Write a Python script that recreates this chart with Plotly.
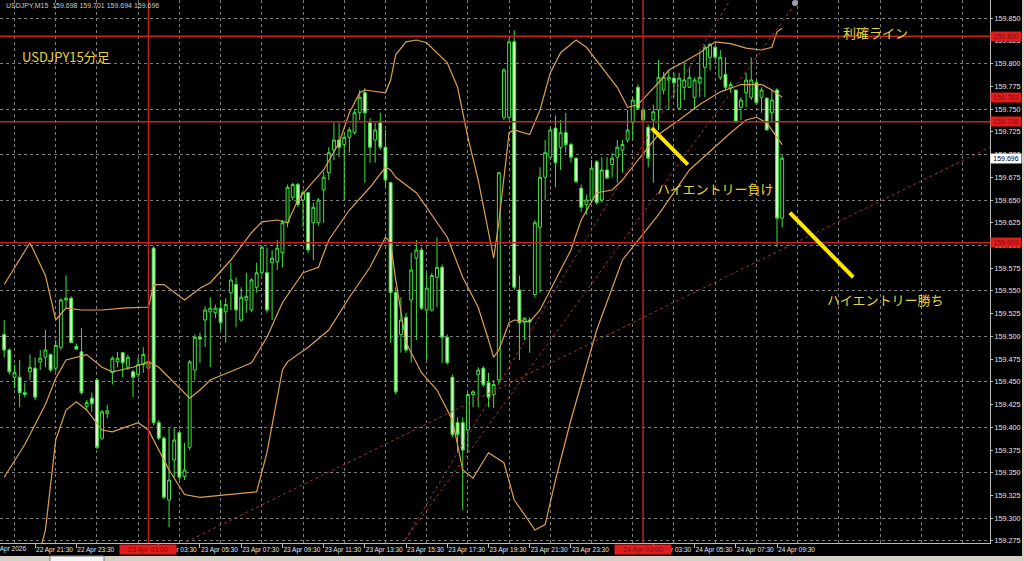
import plotly.graph_objects as go

# ---------------- data ----------------
open_ = [159.502,159.485,159.455,159.455,159.438,159.461,159.465,159.472,159.477,159.480,
         159.465,159.488,159.540,159.542,159.489,159.483,159.423,159.432,159.452,159.388,
         159.415,159.460,159.472,159.482,159.466,159.461,159.458,159.469,159.465,159.597,
         159.405,159.388,159.320,159.364,159.394,159.346,159.378,159.463,159.499,159.518,
         159.527,159.526,159.531,159.527,159.548,159.557,159.518,159.540,159.529,159.554,
         159.570,159.570,159.581,159.582,159.592,159.625,159.653,159.667,159.650,159.658,
         159.625,159.625,159.661,159.680,159.705,159.716,159.711,159.719,159.724,159.746,
         159.768,159.735,159.716,159.735,159.708,159.669,159.548,159.502,159.521,159.540,
         159.586,159.595,159.529,159.529,159.565,159.576,159.499,159.455,159.405,159.405,
         159.397,159.436,159.458,159.465,159.449,159.436,159.452,159.741,159.741,159.824,
         159.551,159.515,159.518,159.546,159.620,159.675,159.697,159.729,159.708,159.724,
         159.711,159.696,159.663,159.645,159.650,159.692,159.650,159.683,159.689,159.697,
         159.705,159.716,159.735,159.774,159.749,159.730,159.738,159.749,159.771,159.782,
         159.784,159.751,159.774,159.774,159.763,159.779,159.796,159.807,159.818,159.785,
         159.788,159.773,159.771,159.752,159.768,159.763,159.779,159.763,159.762,159.746,
         159.771,159.630]
high = [159.518,159.487,159.469,159.474,159.449,159.480,159.477,159.485,159.507,159.481,
        159.496,159.542,159.567,159.544,159.492,159.509,159.430,159.438,159.454,159.419,
        159.425,159.478,159.483,159.483,159.480,159.463,159.477,159.488,159.480,159.599,
        159.408,159.390,159.399,159.400,159.397,159.383,159.474,159.502,159.504,159.533,
        159.543,159.535,159.540,159.542,159.581,159.565,159.554,159.570,159.564,159.581,
        159.600,159.598,159.595,159.606,159.628,159.667,159.669,159.669,159.661,159.659,
        159.647,159.652,159.681,159.708,159.735,159.735,159.724,159.730,159.749,159.771,
        159.773,159.740,159.735,159.746,159.727,159.670,159.554,159.543,159.526,159.592,
        159.606,159.598,159.570,159.570,159.609,159.579,159.502,159.458,159.411,159.411,
        159.438,159.441,159.466,159.467,159.460,159.452,159.681,159.795,159.828,159.837,
        159.567,159.521,159.521,159.628,159.686,159.716,159.730,159.743,159.738,159.746,
        159.713,159.697,159.667,159.656,159.694,159.694,159.697,159.697,159.702,159.716,
        159.716,159.749,159.763,159.777,159.751,159.733,159.755,159.804,159.791,159.793,
        159.790,159.790,159.801,159.796,159.785,159.812,159.821,159.823,159.821,159.815,
        159.807,159.780,159.771,159.763,159.790,159.807,159.782,159.774,159.763,159.771,
        159.773,159.700]
low = [159.477,159.458,159.443,159.422,159.433,159.452,159.430,159.463,159.466,159.461,
       159.461,159.485,159.531,159.493,159.485,159.436,159.419,159.417,159.376,159.386,
       159.410,159.447,159.466,159.455,159.463,159.433,159.455,159.460,159.461,159.402,
       159.386,159.321,159.290,159.345,159.342,159.342,159.375,159.452,159.471,159.488,
       159.466,159.520,159.507,159.493,159.529,159.510,159.516,159.526,159.527,159.548,
       159.567,159.526,159.518,159.573,159.576,159.620,159.650,159.642,159.620,159.592,
       159.584,159.622,159.625,159.672,159.694,159.697,159.650,159.702,159.722,159.738,
       159.669,159.691,159.691,159.705,159.664,159.493,159.436,159.482,159.482,159.471,
       159.496,159.529,159.474,159.527,159.532,159.471,159.469,159.389,159.372,159.309,
       159.372,159.422,159.422,159.444,159.422,159.421,159.447,159.738,159.738,159.551,
       159.474,159.496,159.482,159.543,159.548,159.650,159.694,159.664,159.683,159.702,
       159.691,159.669,159.637,159.634,159.647,159.645,159.647,159.674,159.675,159.669,
       159.680,159.713,159.716,159.749,159.736,159.686,159.669,159.727,159.766,159.749,
       159.763,159.749,159.760,159.773,159.749,159.763,159.763,159.793,159.804,159.782,
       159.771,159.768,159.735,159.738,159.752,159.760,159.755,159.746,159.727,159.735,
       159.598,159.620]
close = [159.485,159.461,159.460,159.438,159.436,159.466,159.433,159.476,159.485,159.463,
         159.490,159.540,159.542,159.493,159.486,159.438,159.427,159.426,159.378,159.417,
         159.418,159.476,159.476,159.471,159.477,159.455,159.469,159.480,159.472,159.405,
         159.388,159.323,159.342,159.386,159.345,159.353,159.472,159.499,159.497,159.529,
         159.531,159.531,159.515,159.535,159.562,159.529,159.543,159.544,159.562,159.570,
         159.598,159.529,159.586,159.597,159.625,159.664,159.667,159.645,159.658,159.595,
         159.642,159.650,159.675,159.702,159.716,159.708,159.719,159.727,159.746,159.763,
         159.746,159.708,159.727,159.708,159.672,159.548,159.439,159.518,159.485,159.573,
         159.595,159.531,159.553,159.567,159.576,159.499,159.471,159.392,159.392,159.375,
         159.436,159.439,159.463,159.447,159.433,159.447,159.680,159.793,159.824,159.554,
         159.515,159.520,159.516,159.625,159.675,159.702,159.727,159.691,159.724,159.711,
         159.697,159.670,159.642,159.650,159.685,159.647,159.683,159.674,159.696,159.708,
         159.711,159.727,159.760,159.751,159.738,159.696,159.747,159.785,159.785,159.785,
         159.779,159.784,159.782,159.785,159.782,159.785,159.818,159.821,159.807,159.807,
         159.774,159.777,159.736,159.760,159.782,159.782,159.757,159.771,159.727,159.760,
         159.630,159.696]
bars = list(range(len(close)))

# Bollinger bands (read at selected bars)
upper_idx = [0,5,8,10,12,15,19,23,27,28,29,31,35,38,40,44,48,50,53,55,57,59,62,65,67,69,70,74,75,76,
             78,80,82,86,88,90,92,94,95,96,98,99,102,104,106,108,111,113,116,119,121,123,127,129,132,
             135,138,141,144,147,149,150,151]
upper = [159.557,159.603,159.567,159.518,159.531,159.529,159.529,159.531,159.532,159.532,
         159.557,159.557,159.540,159.553,159.559,159.584,159.614,159.626,159.628,159.625,
         159.650,159.664,159.683,159.713,159.746,159.768,159.771,159.768,159.782,159.810,
         159.824,159.826,159.823,159.801,159.774,159.719,159.672,159.614,159.586,159.625,
         159.724,159.727,159.722,159.749,159.790,159.812,159.826,159.818,159.796,159.774,
         159.752,159.755,159.779,159.793,159.802,159.812,159.824,159.822,159.817,159.815,
         159.818,159.835,159.839]
middle_idx = [0,4,8,10,12,14,16,19,21,25,28,30,33,36,38,40,46,48,51,54,58,61,63,67,71,74,75,76,80,82,
              86,89,92,94,95,96,98,99,102,104,107,110,112,115,118,120,123,127,131,135,139,143,147,149,151]
middle = [159.345,159.381,159.425,159.454,159.474,159.477,159.480,159.466,159.461,159.466,
          159.472,159.466,159.449,159.432,159.441,159.452,159.466,159.471,159.499,159.537,
          159.570,159.576,159.606,159.639,159.664,159.686,159.683,159.675,159.658,159.642,
          159.609,159.565,159.532,159.496,159.477,159.485,159.515,159.518,159.516,159.529,
          159.562,159.595,159.628,159.658,159.661,159.672,159.694,159.722,159.738,159.755,
          159.769,159.777,159.777,159.771,159.763]
lower_idx = [0,4,8,10,12,14,16,19,21,26,28,32,35,38,49,51,54,55,59,63,67,71,74,75,76,78,81,84,87,89,
             91,94,97,99,101,103,105,107,110,113,115,120,127,133,141,144,146,148,150,151]
lower = [159.133,159.199,159.287,159.386,159.419,159.428,159.419,159.397,159.395,159.405,
         159.397,159.353,159.326,159.323,159.329,159.372,159.463,159.472,159.488,159.507,
         159.543,159.576,159.609,159.603,159.562,159.493,159.460,159.441,159.408,159.353,
         159.344,159.372,159.361,159.320,159.304,159.287,159.293,159.342,159.408,159.469,
         159.507,159.584,159.634,159.683,159.724,159.738,159.741,159.735,159.719,159.711]

# axis labels (the 01:30 labels sit under the red separator tags)
time_tick_bars = [6,14,30,38,46,54,62,70,78,86,94,102,110,126,134,142,150]
time_tick_labels = ["22 Apr 21:30","22 Apr 23:30","23 Apr 03:30","23 Apr 05:30",
                    "23 Apr 07:30","23 Apr 09:30","23 Apr 11:30","23 Apr 13:30","23 Apr 15:30",
                    "23 Apr 17:30","23 Apr 19:30","23 Apr 21:30","23 Apr 23:30",
                    "24 Apr 03:30","24 Apr 05:30","24 Apr 07:30","24 Apr 09:30"]
time_grid_bars = [2,10,18,26,34,42,50,58,66,74,82,90,98,106,114,122,130,138,146,154,162,170,178,186]
price_ticks = [159.275,159.300,159.325,159.350,159.375,159.400,159.425,159.450,159.475,159.500,
               159.525,159.550,159.575,159.600,159.625,159.650,159.675,159.700,159.725,159.750,
               159.775,159.800,159.825,159.850]
price_grid = [159.275,159.300,159.350,159.400,159.450,159.500,159.550,159.600,159.650,159.700,159.750,159.800,159.850]

# horizontal lines / markers drawn by the trader
level_lines = [159.830, 159.736, 159.603]
level_label_prices = [159.830, 159.763, 159.736, 159.603]
current_price = 159.696
separator_bars = [28, 124]
separator_labels = ["23 Apr 03:00", "24 Apr 03:00"]
trend_lines = [((32.2, 159.265), (191.3, 159.708)),
               ((77.8, 159.276), (140.9, 159.870)),
               ((77.8, 159.276), (154.1, 159.870))]
entry_marks = [((125.7, 159.729), (132.7, 159.689)),
               ((152.5, 159.636), (164.8, 159.565))]

W, H = 1024, 561
PL, PR, PT, PB = 0, 34, 0, 18
pw, ph = W - PL - PR, H - PT - PB

def px(x):
    return x / pw

def py(y):
    return (ph - y) / ph

GREEN = '#3fe23f'
BAND = '#dca052'
RED = '#c42424'
YEL = '#e6d43c'
TXT = '#e6e6e6'
NUMFONT = 'Liberation Sans'

fig = go.Figure()
fig.add_trace(go.Candlestick(
    x=bars, open=open_, high=high, low=low, close=close,
    increasing=dict(line=dict(color=GREEN, width=1), fillcolor='#000000'),
    decreasing=dict(line=dict(color=GREEN, width=1), fillcolor='#d8f7c8'),
    whiskerwidth=0, hoverinfo='skip', showlegend=False))
for xi, yv in ((upper_idx, upper), (middle_idx, middle), (lower_idx, lower)):
    fig.add_trace(go.Scatter(x=xi, y=yv, mode='lines', line=dict(color=BAND, width=1.2),
                             hoverinfo='skip', showlegend=False))

shapes = []
for lv in level_lines:
    shapes.append(dict(type='line', xref='paper', x0=0, x1=1, yref='y', y0=lv, y1=lv,
                       line=dict(color=RED, width=1.6)))
for b in separator_bars:
    shapes.append(dict(type='line', xref='x', x0=b, x1=b, yref='paper', y0=0, y1=1,
                       line=dict(color=RED, width=1.4)))
for (x0, y0), (x1, y1) in trend_lines:
    shapes.append(dict(type='line', xref='x', yref='y', x0=x0, y0=y0, x1=x1, y1=y1,
                       line=dict(color='#a83030', width=1, dash='dot')))
for (x0, y0), (x1, y1) in entry_marks:
    shapes.append(dict(type='line', xref='x', yref='y', x0=x0, y0=y0, x1=x1, y1=y1,
                       line=dict(color='#ffe600', width=4)))
# bottom window strip and tab
shapes.append(dict(type='rect', xref='paper', yref='paper', x0=-0.01, x1=px(W + 5),
                   y0=py(H + 5), y1=py(556), fillcolor='#d4d0c8', line=dict(width=0), layer='above'))
shapes.append(dict(type='rect', xref='paper', yref='paper', x0=px(50), x1=px(104),
                   y0=py(H + 5), y1=py(556), fillcolor='#f4f4f4', line=dict(color='#808080', width=1), layer='above'))
shapes.append(dict(type='rect', xref='paper', yref='paper', x0=px(1022), x1=px(W + 5),
                   y0=py(H + 5), y1=py(-5), fillcolor='#d4d0c8', line=dict(width=0), layer='above'))
shapes.append(dict(type='circle', xref='paper', yref='paper', x0=px(792), x1=px(798),
                   y0=py(6), y1=py(0), fillcolor='#9aa0b8', line=dict(width=0)))

ann = []
ann.append(dict(text='USDJPY,M15  159.698 159.701 159.694 159.696', xref='paper', yref='paper',
                x=px(4), y=py(6), xanchor='left', yanchor='middle', showarrow=False,
                font=dict(family=NUMFONT, size=7, color='#c8c8c8')))
cjk = 'Noto Sans CJK JP'
for t, x, y in (('USDJPY15分足', 66, 57), ('利確ライン', 875, 33),
                ('ハイエントリー負け', 715, 188), ('ハイエントリー勝ち', 885, 300)):
    ann.append(dict(text=t, xref='paper', yref='paper', x=px(x), y=py(y), xanchor='center',
                    yanchor='middle', showarrow=False, font=dict(family=cjk, size=13, color=YEL)))
for p in level_label_prices:
    ann.append(dict(text=f'{p:.3f}', xref='paper', yref='y', x=px(1006), y=p, xanchor='center',
                    yanchor='middle', showarrow=False, bgcolor='#e01c1c', borderpad=0, width=30, height=9,
                    font=dict(family=NUMFONT, size=7, color='#8a0c0c')))
ann.append(dict(text=f'{current_price:.3f}', xref='paper', yref='y', x=px(1006), y=current_price,
                xanchor='center', yanchor='middle', showarrow=False, bgcolor='#ffffff', borderpad=0,
                width=30, height=9, font=dict(family=NUMFONT, size=7, color='#000000')))
for b, t in zip(separator_bars, separator_labels):
    ann.append(dict(text=t, xref='x', yref='paper', x=b, y=py(549), xanchor='center', yanchor='middle',
                    showarrow=False, bgcolor='#e01c1c', borderpad=0, width=56, height=9,
                    font=dict(family=NUMFONT, size=7, color='#8a0c0c')))
ann.append(dict(text='22 Apr 2026', xref='paper', yref='paper', x=px(28), y=py(549), xanchor='right',
                yanchor='middle', showarrow=False, font=dict(family=NUMFONT, size=6.5, color=TXT)))

fig.update_layout(
    width=W, height=H, margin=dict(l=PL, r=PR, t=PT, b=PB, pad=0),
    paper_bgcolor='#000000', plot_bgcolor='#000000',
    showlegend=False, boxgap=0.2, shapes=shapes, annotations=ann,
    xaxis=dict(range=[-0.815, 191.34], rangeslider=dict(visible=False), showgrid=False, zeroline=False,
               automargin=False, tickangle=0,
               tickmode='array', tickvals=time_tick_bars, ticktext=time_tick_labels,
               ticklabelposition='outside right', ticks='outside', ticklen=4, tickcolor='#bbbbbb',
               tickfont=dict(family=NUMFONT, size=6.5, color=TXT),
               showline=True, linecolor='#bbbbbb', linewidth=1,
               minor=dict(tickmode='array', tickvals=time_grid_bars, showgrid=True, gridcolor='#7c7c7c',
                          griddash='dot', gridwidth=1, ticks='')),
    yaxis=dict(range=[159.2727, 159.870], side='right', showgrid=False, zeroline=False,
               automargin=False,
               tickmode='array', tickvals=price_ticks, ticktext=[f'{v:.3f}' for v in price_ticks],
               ticks='outside', ticklen=2, tickcolor='#bbbbbb',
               tickfont=dict(family=NUMFONT, size=7.2, color=TXT),
               showline=True, linecolor='#bbbbbb', linewidth=1,
               minor=dict(tickmode='array', tickvals=price_grid, showgrid=True, gridcolor='#7c7c7c',
                          griddash='dot', gridwidth=1, ticks='')),
)
fig.write_html('out.html', config={'displayModeBar': False},
               post_script="document.body.style.margin='0';document.body.style.overflow='hidden';")
